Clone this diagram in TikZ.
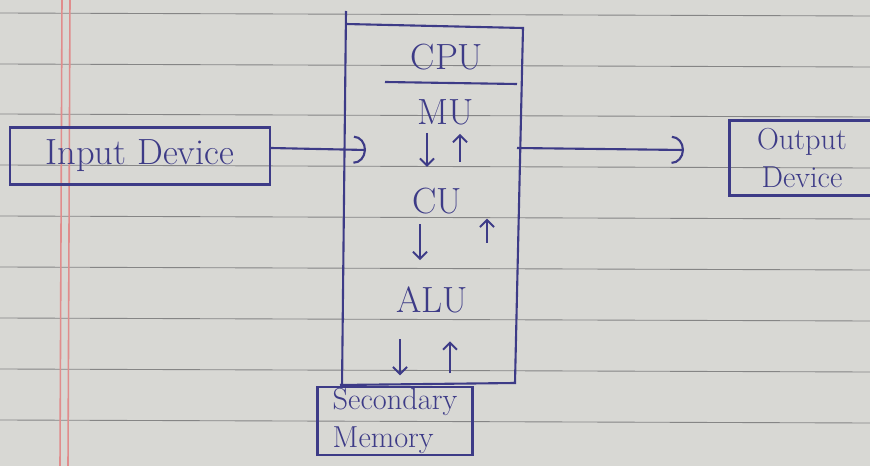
\documentclass[tikz,border=0pt]{standalone}
\usetikzlibrary{arrows.meta}
\definecolor{ink}{HTML}{3D3B87}
\definecolor{paper}{HTML}{D8D8D4}
\definecolor{ruling}{HTML}{858585}
\definecolor{margin}{HTML}{E08C8C}
\tikzset{
    inkline/.style={draw=ink, line width=1.2pt},
    part/.style={text=ink, font=\huge, inner sep=1pt},
    device/.style={inkline, text=ink, align=center, inner sep=0pt},
    flow/.style={ink, line width=1.2pt, -{Arc Barb[length=7pt, width=16pt]}},
    updown/.style={ink, line width=1.1pt, -{Straight Barb[length=4pt, width=8pt]}}
}
\begin{document}
\begin{tikzpicture}[x=0.02cm, y=-0.02cm]
    % paper
    \fill[paper] (0,0) rectangle (870,466);
    \useasboundingbox (0,0) rectangle (870,466);
    \foreach \y in {13,64,114,165,216,267,318,369,420}
        \draw[ruling, line width=0.5pt] (0,\y) -- (870,\y+3);
    \draw[margin, line width=0.9pt] (62,0) -- (60,466);
    \draw[margin, line width=0.9pt] (70,0) -- (68,466);
    % cpu box
    \draw[inkline] (346,11) -- (342,388);
    \draw[inkline] (346,24) -- (523,28) -- (515,383) -- (340,385);
    \node[part] (cpu) at (447,57) {CPU};
    \draw[inkline] (385,82) -- (517,84);
    \node[part] (mu) at (446,112) {MU};
    \node[part] (cu) at (437,201) {CU};
    \node[part] (alu) at (432,300) {ALU};
    \draw[updown] (427,0 |- mu.south) ++(0,6) -- ++(0,34);
    \draw[updown] (460,0 |- cu.north) ++(0,-24) -- ++(0,-28);
    \draw[updown] (420,0 |- cu.south) ++(0,8) -- ++(0,36);
    \draw[updown] (487,0 |- alu.north) ++(0,-42) -- ++(0,-24);
    \draw[updown] (400,0 |- alu.south) ++(0,24) -- ++(0,36);
    \draw[updown] (450,0 |- alu.south) ++(0,58) -- ++(0,-32);
    % devices
    \node[device, font=\huge, minimum width=5.2cm, minimum height=1.14cm] (indev) at (140,156) {Input Device};
    \node[device, font=\LARGE, minimum width=2.9cm, minimum height=1.5cm] (outdev) at (802,158) {Output\\Device};
    \node[device, font=\LARGE, align=left, minimum width=3.1cm, minimum height=1.36cm] (secmem) at (395,421) {Secondary\\Memory};
    \coordinate (cpuin) at (366,150);
    \coordinate (cpuout) at (517,148);
    \coordinate (outtip) at (684,150);
    \draw[flow] (indev.east |- 0,148) -- (cpuin);
    \draw[flow] (cpuout) -- (outtip);
\end{tikzpicture}
\end{document}
